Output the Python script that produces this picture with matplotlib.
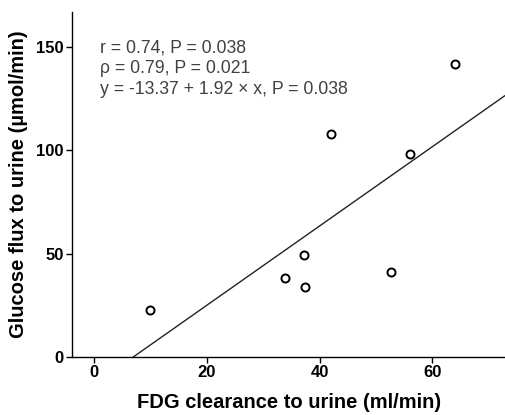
import numpy as np
import matplotlib.pyplot as plt

plt.rcParams['font.family'] = ['Liberation Sans', 'DejaVu Sans']

# data
fdg_clearance = [10.0, 33.8, 37.3, 37.5, 42.1, 52.6, 56.0, 64.0]
glucose_flux = [22.8, 38.3, 49.3, 34.0, 108.2, 41.3, 98.4, 142.0]
intercept = -13.37
slope = 1.92
stats_lines = ['r = 0.74, P = 0.038',
               '\u03c1 = 0.79, P = 0.021',
               'y = -13.37 + 1.92 \u00d7 x, P = 0.038']

fig = plt.figure(figsize=(5.06, 4.15), dpi=100)
ax = fig.add_axes([0.1423, 0.1398, 0.857, 0.831])

xmin, xmax = -3.9, 73.0
ax.set_xlim(xmin, xmax)
ax.set_ylim(0, 167)

# regression line, starting where it crosses y = 0
x0 = -intercept / slope
xs = np.array([x0, xmax])
ax.plot(xs, intercept + slope * xs, color='#222222', lw=1.0)

ax.plot(fdg_clearance, glucose_flux, 'o', mfc='white', mec='black',
        mew=1.4, ms=5.8, ls='none')

ax.set_xticks([0, 20, 40, 60])
ax.set_yticks([0, 50, 100, 150])
ax.tick_params(length=4, width=1, labelsize=12, pad=2)
for lab in ax.get_xticklabels() + ax.get_yticklabels():
    lab.set_fontweight('bold')

ax.spines['top'].set_visible(False)
ax.spines['right'].set_visible(False)
ax.spines['left'].set_linewidth(1)
ax.spines['bottom'].set_linewidth(1)

ax.set_xlabel('FDG clearance to urine (ml/min)', fontsize=14.5,
              fontweight='bold', labelpad=9)
ax.set_ylabel('Glucose flux to urine (\u00b5mol/min)', fontsize=14.5,
              fontweight='bold', labelpad=6)

ax.text(0.065, 0.92, '\n'.join(stats_lines), transform=ax.transAxes,
        fontsize=12.7, color='#404040', va='top', ha='left', linespacing=1.28)

fig.savefig('out.png', dpi=100)
